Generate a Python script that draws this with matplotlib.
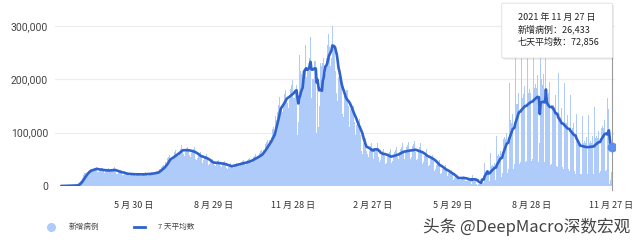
import matplotlib.pyplot as plt
import numpy as np
import pandas as pd
from matplotlib.lines import Line2D
from matplotlib.patches import FancyBboxPatch

plt.rcParams["font.family"] = ["Noto Sans CJK SC", "DejaVu Sans"]

# daily new cases in thousands, one row per week (Sun..Sat), starting 2020-03-08
start_date = "2020-03-08"
daily_2020_k = [
    [0.1, 0.1, 0.2, 0.3, 0.4, 0.5, 0.6],
    [0.3, 0.4, 0.5, 0.7, 0.9, 1.2, 1.6],
    [0.5, 0.6, 0.8, 1.0, 1.5, 3.0, 5.0],
    [7, 9, 12, 15, 18, 21, 24],
    [24, 25, 27, 29, 30, 31, 32],
    [30, 28, 31, 33, 34, 35, 33],
    [27, 26, 29, 32, 33, 34, 29],
    [26, 25, 28, 30, 32, 33, 29],
    [27, 26, 28, 31, 33, 35, 30],
    [23, 22, 25, 27, 29, 30, 26],
    [21, 20, 22, 24, 25, 26, 23],
    [20, 19, 21, 23, 24, 25, 22],
    [20, 19, 21, 23, 24, 26, 21],
    [19, 18, 21, 24, 25, 26, 21],
    [21, 19, 22, 24, 25, 27, 23],
    [22, 21, 24, 26, 28, 29, 25],
    [31, 29, 32, 36, 37, 39, 34],
    [45, 42, 47, 53, 55, 58, 50],
    [52, 49, 55, 61, 64, 67, 58],
    [60, 57, 64, 70, 74, 77, 67],
    [60, 57, 64, 71, 73, 77, 67],
    [58, 54, 61, 67, 70, 74, 64],
    [50, 48, 53, 59, 62, 64, 56],
    [47, 44, 49, 55, 57, 60, 52],
    [40, 37, 42, 46, 48, 51, 44],
    [39, 37, 41, 45, 47, 49, 43],
    [37, 35, 39, 43, 45, 47, 41],
    [33, 31, 35, 39, 41, 43, 37],
    [36, 34, 38, 42, 44, 46, 40],
    [39, 37, 41, 45, 47, 49, 43],
    [41, 39, 44, 48, 51, 53, 46],
    [47, 44, 49, 55, 57, 60, 52],
    [53, 50, 56, 62, 65, 68, 59],
    [68, 64, 71, 79, 83, 86, 75],
    [86, 82, 91, 101, 106, 110, 96],
    [131, 123, 138, 152, 160, 167, 145],
    [148, 139, 156, 172, 180, 189, 164],
    [156, 147, 164, 182, 190, 199, 173],
    [165, 165, 175, 190, 95, 120, 245],
    [190, 215, 210, 215, 215, 220, 265],
    [205, 195, 215, 230, 240, 280, 165],
    [200, 200, 225, 235, 235, 100, 200],
]
daily_2021_k = [
    [110, 150, 230, 235, 225, 230, 240],
    [200, 210, 240, 265, 270, 285, 260],
    [225, 240, 300, 260, 265, 270, 215],
    [175, 160, 205, 215, 205, 200, 160],
    [135, 130, 170, 175, 180, 180, 150],
    [120, 110, 145, 150, 150, 150, 120],
    [95, 85, 115, 120, 120, 125, 95],
    [65, 60, 70, 80, 85, 90, 65],
    [60, 55, 65, 70, 75, 80, 70],
    [50, 70, 65, 72, 72, 80, 55],
    [45, 48, 60, 66, 69, 75, 57],
    [41, 44, 55, 61, 63, 69, 52],
    [44, 46, 58, 64, 67, 73, 55],
    [48, 51, 64, 70, 74, 80, 61],
    [50, 53, 66, 73, 76, 83, 63],
    [51, 55, 68, 75, 78, 85, 64],
    [48, 51, 64, 70, 74, 80, 61],
    [42, 45, 56, 62, 64, 70, 53],
    [38, 40, 50, 55, 58, 63, 46],
    [29, 31, 39, 43, 45, 49, 37],
    [23, 25, 31, 34, 36, 39, 29],
    [18, 19, 24, 26, 28, 30, 23],
    [11, 12, 15, 17, 17, 19, 14],
    [11, 12, 15, 17, 17, 19, 14],
    [9, 10, 12, 13, 14, 15, 11],
    [3, 20, 12, 13, 12, 14, 3],
    [2, 3, 6, 8, 2, 60, 3],
    [6, 43, 26, 28, 26, 30, 7],
    [10, 61, 37, 39, 37, 43, 11],
    [16, 94, 57, 60, 57, 65, 16],
    [24, 144, 88, 92, 88, 100, 24],
    [32, 194, 119, 124, 119, 135, 32],
    [42, 250, 153, 160, 153, 174, 42],
    [45, 270, 165, 173, 165, 188, 45],
    [47, 284, 174, 182, 174, 198, 47],
    [50, 301, 184, 192, 184, 209, 50],
    [45, 80, 330, 200, 190, 210, 45],
    [42, 250, 170, 165, 175, 195, 40],
    [41, 255, 148, 152, 148, 170, 38],
    [35, 211, 129, 135, 129, 146, 35],
    [32, 193, 118, 123, 118, 134, 32],
    [29, 171, 105, 109, 105, 119, 28],
    [23, 135, 83, 86, 83, 94, 23],
    [22, 131, 80, 84, 80, 91, 22],
    [22, 133, 81, 85, 81, 93, 23],
    [25, 148, 90, 94, 90, 103, 24],
    [29, 176, 108, 113, 108, 123, 29],
    [30, 165, 130, 145, 3, 10.559, 26.433],
]

tick_dates = ["2020-05-30", "2020-08-29", "2020-11-28", "2021-02-27",
              "2021-05-29", "2021-08-28", "2021-11-27"]
tick_labels = ["5 月 30 日", "8 月 29 日", "11 月 28 日", "2 月 27 日",
               "5 月 29 日", "8 月 28 日", "11 月 27 日"]
y_ticks = [0, 100000, 200000, 300000]
legend_labels = ["新增病例", "7 天平均数"]
hover_title = "2021 年 11 月 27 日"

bar_color = "#aecbfa"
line_color = "#2f62cc"

weeks = daily_2020_k + daily_2021_k
values = np.concatenate([np.array(w, dtype=float) for w in weeks]) * 1000
cases = pd.Series(values, index=pd.date_range(start_date, periods=len(values), freq="D"))
avg = cases.rolling(7, min_periods=1).mean()

fig = plt.figure(figsize=(6.4, 2.43), dpi=100)
ax = fig.add_axes([0.086, 0.2346, 0.875, 0.7243])

ax.bar(cases.index, cases.values, width=1.0, color=bar_color, linewidth=0, zorder=2)
ax.plot(avg.index, avg.values, color=line_color, lw=1.9, zorder=3, solid_capstyle="round")
ax.plot(avg.index[-1:], avg.values[-1:], "o", color="#5b8ff0", ms=6, zorder=4)
ax.axvline(avg.index[-1], ymin=-0.02, ymax=0.73, color="#9a9a9a", lw=0.8,
           zorder=3, clip_on=False)

ax.set_xlim(pd.Timestamp("2020-03-01"), pd.Timestamp("2021-12-01"))
ax.set_ylim(0, 330000)
ax.set_xticks(pd.to_datetime(tick_dates))
ax.set_xticklabels(tick_labels, fontsize=6.5, color="#333333")
ax.set_yticks(y_ticks)
ax.set_yticklabels([f"{v:,}" for v in y_ticks], fontsize=7.5, color="#444444",
                   family=["Roboto", "DejaVu Sans"])
ax.tick_params(axis="both", length=0)
ax.tick_params(axis="x", pad=11)
ax.tick_params(axis="y", pad=5)
for s in ax.spines.values():
    s.set_visible(False)
ax.yaxis.grid(True, color="#ececec", lw=0.8)
ax.set_axisbelow(True)

# hover tooltip
shadow = FancyBboxPatch((0.786, 0.755), 0.173, 0.226, boxstyle="round,pad=0,rounding_size=0.004",
                        transform=fig.transFigure, fc="#000000", ec="none", alpha=0.10, zorder=5)
box = FancyBboxPatch((0.784, 0.761), 0.173, 0.226, boxstyle="round,pad=0,rounding_size=0.004",
                     transform=fig.transFigure, fc="white", ec="#dddddd", lw=0.6, zorder=6)
fig.add_artist(shadow)
fig.add_artist(box)
tip_lines = [hover_title,
             f"新增病例：{cases.iloc[-1]:,.0f}",
             f"七天平均数：{avg.iloc[-1]:,.0f}"]
for k, t in enumerate(tip_lines):
    fig.text(0.809, 0.930 - k * 0.05, t, fontsize=6.5, color="#222222", va="center", zorder=7)

# legend
handles = [Line2D([], [], marker="o", ls="none", color=bar_color, ms=5.5),
           Line2D([], [], color=line_color, lw=2)]
fig.legend(handles, legend_labels, loc="center left", bbox_to_anchor=(0.06, 0.065),
           ncol=2, frameon=False, fontsize=5.5, handlelength=1.5, handletextpad=1.6,
           columnspacing=4.5, labelcolor="#444444")

fig.text(0.985, 0.066, "头条 @DeepMacro深数宏观", ha="right", va="center",
         fontsize=12, color="#444444")

fig.savefig("out.png", dpi=100)
